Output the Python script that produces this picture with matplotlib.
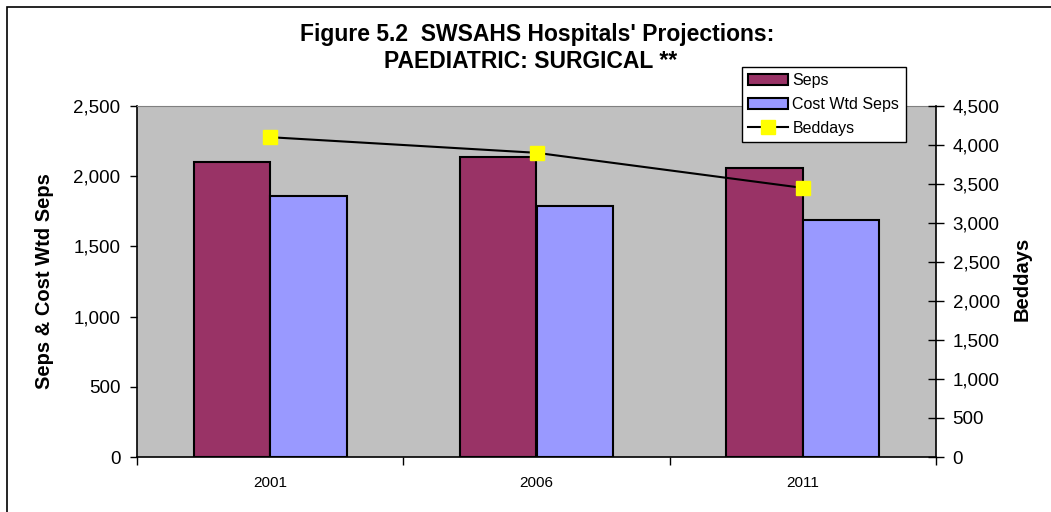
import matplotlib
matplotlib.use("Agg")
import matplotlib.pyplot as plt
from matplotlib.patches import Patch, Rectangle
from matplotlib.lines import Line2D
import numpy as np

plt.rcParams['font.family'] = ['Liberation Sans', 'DejaVu Sans']

years = ["2001", "2006", "2011"]
seps = [2100, 2140, 2055]
cost_wtd_seps = [1857, 1787, 1686]
beddays = [4100, 3900, 3450]

left_ticks = [0, 500, 1000, 1500, 2000, 2500]
right_ticks = [0, 500, 1000, 1500, 2000, 2500, 3000, 3500, 4000, 4500]

W, H = 1051, 512
fig = plt.figure(figsize=(W / 100, H / 100), dpi=100)
fig.patch.set_facecolor('white')

# figure border
fig.patches.append(Rectangle((7 / W, -0.2), 1.5, 1 - 7 / H + 0.2, transform=fig.transFigure,
                             fill=False, edgecolor='black', linewidth=1.2))

ax = fig.add_axes([137 / W, (H - 457) / H, 799 / W, 351 / H])
ax.set_facecolor('#C0C0C0')
x = np.arange(len(years))
bw = 0.2875
ax.bar(x - bw / 2, seps, width=bw, color='#993366', edgecolor='black', linewidth=1.5, zorder=2)
ax.bar(x + bw / 2, cost_wtd_seps, width=bw, color='#9999FF', edgecolor='black', linewidth=1.5, zorder=2)
ax.set_xlim(-0.5, 2.5)
ax.set_ylim(0, 2500)
ax.set_yticks(left_ticks)
ax.set_yticklabels([f"{v:,}" for v in left_ticks])
ax.tick_params(axis='y', direction='out', length=5, width=1, labelsize=13.5, pad=7)
ax.set_xticks(x)
ax.set_xticklabels(years)
ax.tick_params(axis='x', which='major', length=0, labelsize=11, pad=14)
ax.set_xticks([-0.5, 0.5, 1.5, 2.5], minor=True)
ax.tick_params(axis='x', which='minor', direction='out', length=6, width=1)
for s in ['left', 'bottom']:
    ax.spines[s].set_color('black')
    ax.spines[s].set_linewidth(1.2)
ax.spines['top'].set_color('#808080')
ax.spines['right'].set_visible(False)

ax2 = ax.twinx()
ax2.plot(x, beddays, color='black', linewidth=1.5, marker='s', markersize=10,
         markerfacecolor='#FFFF00', markeredgecolor='#FFFF00', zorder=3)
ax2.set_ylim(0, 4500)
ax2.set_yticks(right_ticks)
ax2.set_yticklabels([f"{v:,}" for v in right_ticks])
ax2.tick_params(axis='y', direction='inout', length=12, width=1, labelsize=13.5, pad=6)
ax2.spines['right'].set_color('black')
ax2.spines['right'].set_linewidth(1.2)
ax2.spines['top'].set_visible(False)
ax2.spines['left'].set_visible(False)
ax2.spines['bottom'].set_visible(False)

fig.text(537 / W, 1 - 35 / H, "Figure 5.2  SWSAHS Hospitals' Projections:", ha='center', va='center',
         fontsize=16.5, fontweight='bold')
fig.text(531 / W, 1 - 61 / H, "PAEDIATRIC: SURGICAL **", ha='center', va='center',
         fontsize=16.5, fontweight='bold')
fig.text(45 / W, 1 - 281 / H, "Seps & Cost Wtd Seps", rotation=90, ha='center', va='center',
         fontsize=14.5, fontweight='bold')
fig.text(1022 / W, 1 - 279 / H, "Beddays", rotation=90, ha='center', va='center',
         fontsize=14.5, fontweight='bold')

handles = [Patch(facecolor='#993366', edgecolor='black', linewidth=1.5),
           Patch(facecolor='#9999FF', edgecolor='black', linewidth=1.5),
           Line2D([0], [0], color='black', linewidth=1.5, marker='s', markersize=10,
                  markerfacecolor='#FFFF00', markeredgecolor='#FFFF00')]
leg = fig.legend(handles, ["Seps", "Cost Wtd Seps", "Beddays"], loc='upper left',
                 bbox_to_anchor=(742 / W, 1 - 67 / H), bbox_transform=fig.transFigure,
                 borderaxespad=0, fancybox=False, framealpha=1, edgecolor='black',
                 fontsize=11.5, handlelength=2.5, handleheight=0.7, labelspacing=0.55,
                 handletextpad=0.25, borderpad=0.4)
leg.get_frame().set_linewidth(1)
leg.set_zorder(10)

fig.savefig("out.png", dpi=100)
